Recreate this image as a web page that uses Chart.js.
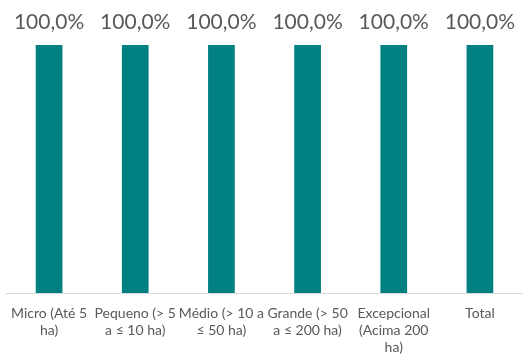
<!DOCTYPE html>
<html>
<head>
<meta charset="utf-8">
<script src="https://cdn.jsdelivr.net/npm/chart.js@4.4.1/dist/chart.umd.min.js"></script>
<style>
  html, body { margin: 0; padding: 0; background: #fff; }
  #wrap { width: 523px; height: 356px; }
</style>
</head>
<body>
<div id="wrap"><canvas id="chart"></canvas></div>
<script>
const categories = [
  ['Micro (Até 5', 'ha)'],
  ['Pequeno (> 5', 'a ≤ 10 ha)'],
  ['Médio (> 10 a', '≤ 50 ha)'],
  ['Grande (> 50', 'a ≤ 200 ha)'],
  ['Excepcional', '(Acima 200', 'ha)'],
  ['Total'],
];
const shares = [100, 100, 100, 100, 100, 100];

// value labels above each bar, "100,0%" style
const barLabels = {
  id: 'barLabels',
  afterDatasetsDraw(chart) {
    const { ctx } = chart;
    const meta = chart.getDatasetMeta(0);
    ctx.save();
    ctx.font = '21px Lato, "Open Sans", sans-serif';
    ctx.fillStyle = '#595959';
    ctx.textAlign = 'center';
    ctx.textBaseline = 'alphabetic';
    meta.data.forEach((bar, i) => {
      const txt = shares[i].toFixed(1).replace('.', ',') + '%';
      ctx.fillText(txt, bar.x, bar.y - 16);
    });
    ctx.restore();
  },
};

new Chart(document.getElementById('chart'), {
  type: 'bar',
  data: {
    labels: categories,
    datasets: [{
      data: shares,
      backgroundColor: '#008080',
      barPercentage: 0.31,
      categoryPercentage: 1,
    }],
  },
  options: {
    responsive: true,
    maintainAspectRatio: false,
    animation: false,
    layout: { padding: { top: 45, left: 6, right: -4, bottom: 0 } },
    plugins: { legend: { display: false }, tooltip: { enabled: false } },
    scales: {
      x: {
        grid: { display: false, tickLength: 12 },
        border: { color: '#d9d9d9', width: 1 },
        ticks: {
          color: '#595959',
          font: { family: 'Lato, "Open Sans", sans-serif', size: 14, lineHeight: '17px' },
          maxRotation: 0,
          autoSkip: false,
          padding: 0,
        },
      },
      y: {
        display: false,
        min: 0,
        max: 100,
      },
    },
  },
  plugins: [barLabels],
});
</script>
</body>
</html>
